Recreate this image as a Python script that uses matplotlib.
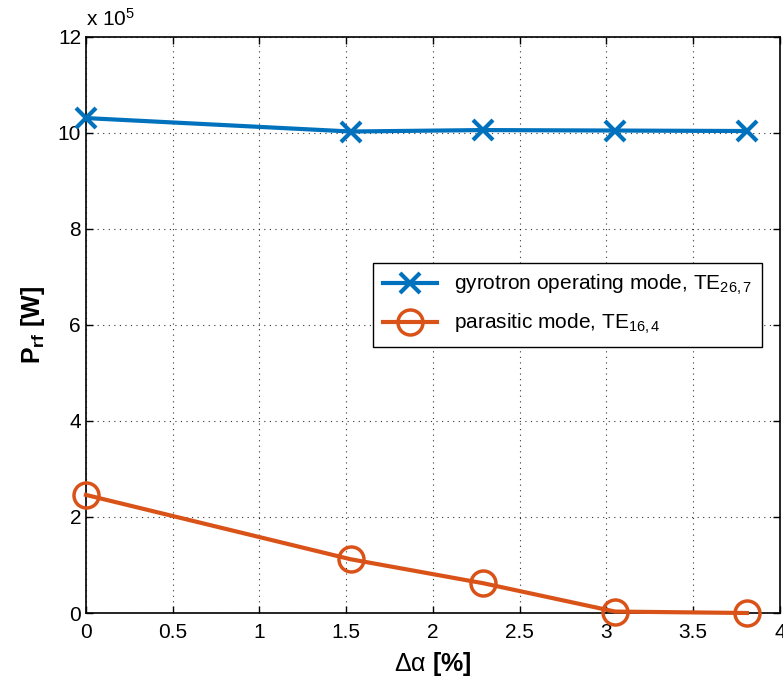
import numpy as np
import matplotlib.pyplot as plt
from matplotlib.ticker import FuncFormatter

plt.rcParams['font.family'] = ['Liberation Sans', 'DejaVu Sans']
plt.rcParams['mathtext.fontset'] = 'custom'
plt.rcParams['mathtext.rm'] = 'Liberation Sans'
plt.rcParams['mathtext.it'] = 'Liberation Sans'
plt.rcParams['mathtext.bf'] = 'Liberation Sans:bold'

delta_alpha = [0.0, 1.525, 2.29, 3.05, 3.81]
p_operating = [10.31e5, 10.03e5, 10.06e5, 10.05e5, 10.04e5]
p_parasitic = [2.46e5, 1.12e5, 0.62e5, 0.03e5, 0.0]

blue = "#0072bd"
orange = "#d95319"

fig = plt.figure(figsize=(7.83, 6.84), dpi=100)
ax = fig.add_axes([0.1098, 0.1038, 0.8862, 0.8422])

ax.plot(delta_alpha, p_operating, color=blue, lw=3, marker="x", ms=14, mew=3,
        clip_on=False, zorder=3, label=r"gyrotron operating mode, TE$_{26,7}$")
ax.plot(delta_alpha, p_parasitic, color=orange, lw=3, marker="o", ms=18, mew=2.5,
        mfc="none", clip_on=False, zorder=3, label=r"parasitic mode, TE$_{16,4}$")

ax.set_xlim(0, 4)
ax.set_ylim(0, 12e5)
ax.set_xticks(np.arange(0, 4.01, 0.5))
ax.set_yticks(np.arange(0, 12.01e5, 2e5))
ax.xaxis.set_major_formatter(FuncFormatter(lambda v, p: f"{v:g}"))
ax.yaxis.set_major_formatter(FuncFormatter(lambda v, p: f"{v / 1e5:g}"))
ax.tick_params(direction="in", top=True, right=True, labelsize=15, length=5, width=1)
ax.tick_params(axis="x", pad=7)
ax.grid(True, color="black", linestyle=(0, (1, 4)), linewidth=0.8, alpha=0.8)
for s in ax.spines.values():
    s.set_linewidth(1.2)

ax.text(0.0, 1.012, r"x 10$^5$", transform=ax.transAxes, fontsize=15, ha="left", va="bottom")

ax.set_xlabel(r"$\mathrm{\Delta\alpha}$ [%]", fontsize=18, fontweight="bold", labelpad=6)
ax.set_ylabel(r"P$_\mathbf{rf}$ [W]", fontsize=18, fontweight="bold", labelpad=8)

ax.legend(loc="upper left", bbox_to_anchor=(0.413, 0.608), fontsize=15,
          fancybox=False, edgecolor="black", framealpha=1, handlelength=2.6,
          borderpad=0.5, labelspacing=0.7, borderaxespad=0)

fig.savefig("out.png", dpi=100)
